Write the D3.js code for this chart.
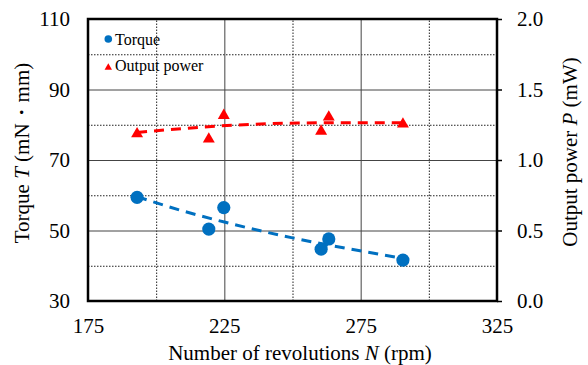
<!DOCTYPE html>
<html><head><meta charset="utf-8">
<script src="https://cdn.jsdelivr.net/npm/d3@7"></script>
<style>
body{margin:0;background:#fff;}
svg{display:block;}
svg text{font-family:"Liberation Serif","Times New Roman",serif;}
</style></head>
<body><svg id="c" width="588" height="365"></svg>
<script>
// ---- data ----
const rpm = [193, 219.3, 224.8, 260.5, 263.3, 290.5];
const torque = [59.4, 50.4, 56.5, 44.7, 47.6, 41.6];
const power = [1.193, 1.155, 1.323, 1.211, 1.311, 1.262];
const torqueTrendN = [193, 210, 225, 250, 270, 290.5];
const torqueTrendT = [59.6, 55.5, 52.4, 47.9, 44.9, 42.1];
const powerTrendN = [193, 211, 223, 234, 252, 270, 290.5];
const powerTrendP = [1.195, 1.225, 1.241, 1.252, 1.262, 1.265, 1.265];
const xTicks = [175, 225, 275, 325];
const xMinor = [200, 250, 300];
const yTTicks = [30, 50, 70, 90, 110];
const yTMinor = [40, 60, 80, 100];
const yPTicks = [0, 0.5, 1.0, 1.5, 2.0];

const SERIF = '"Liberation Serif","Times New Roman",serif';
const L = 88, R = 497, T = 19, B = 301;
const svg = d3.select("#c");
const x = d3.scaleLinear().domain([175, 325]).range([L, R]);
const yT = d3.scaleLinear().domain([30, 110]).range([B, T]);
const yP = d3.scaleLinear().domain([0, 2]).range([B, T]);

// minor grid (dotted)
const g = svg.append("g");
g.append("g").attr("transform", `translate(0,${B})`)
  .call(d3.axisBottom(x).tickValues(xMinor).tickSize(-(B - T)).tickFormat(""))
  .call(s => { s.select(".domain").remove(); s.selectAll("line").attr("stroke", "#222").attr("stroke-dasharray", "1.5,1.5"); });
g.append("g").attr("transform", `translate(${L},0)`)
  .call(d3.axisLeft(yT).tickValues(yTMinor).tickSize(-(R - L)).tickFormat(""))
  .call(s => { s.select(".domain").remove(); s.selectAll("line").attr("stroke", "#222").attr("stroke-dasharray", "1.5,1.5"); });
// major grid (solid)
g.append("g").attr("transform", `translate(0,${B})`)
  .call(d3.axisBottom(x).tickValues([225, 275]).tickSize(-(B - T)).tickFormat(""))
  .call(s => { s.select(".domain").remove(); s.selectAll("line").attr("stroke", "#444"); });
g.append("g").attr("transform", `translate(${L},0)`)
  .call(d3.axisLeft(yT).tickValues([50, 70, 90]).tickSize(-(R - L)).tickFormat(""))
  .call(s => { s.select(".domain").remove(); s.selectAll("line").attr("stroke", "#444"); });

// axes labels
const fs = 21;
function styleAxis(s) {
  s.attr("font-family", SERIF).attr("font-size", fs);
  s.select(".domain").remove();
  s.selectAll("text").attr("font-size", fs).attr("font-family", SERIF).attr("fill", "#000");
}
svg.append("g").attr("transform", `translate(0,${B})`)
  .call(d3.axisBottom(x).tickValues(xTicks).tickSize(0).tickPadding(17).tickFormat(d3.format("d")))
  .call(styleAxis);
svg.append("g").attr("transform", `translate(${L},0)`)
  .call(d3.axisLeft(yT).tickValues(yTTicks).tickSize(0).tickPadding(18).tickFormat(d3.format("d")))
  .call(styleAxis);
svg.append("g").attr("transform", `translate(${R},0)`)
  .call(d3.axisRight(yP).tickValues(yPTicks).tickSize(5).tickPadding(15).tickFormat(d3.format(".1f")))
  .call(styleAxis)
  .call(s => s.selectAll("line").attr("stroke", "#000").attr("stroke-width", 1.5));

// trend lines
const tData = torqueTrendN.map((n, i) => [n, torqueTrendT[i]]);
const pData = powerTrendN.map((n, i) => [n, powerTrendP[i]]);
svg.append("path").attr("d", d3.line().x(d => x(d[0])).y(d => yT(d[1])).curve(d3.curveMonotoneX)(tData))
  .attr("fill", "none").attr("stroke", "#0070C0").attr("stroke-width", 3).attr("stroke-dasharray", "10,7");
svg.append("path").attr("d", d3.line().x(d => x(d[0])).y(d => yP(d[1])).curve(d3.curveMonotoneX)(pData))
  .attr("fill", "none").attr("stroke", "#FF0000").attr("stroke-width", 3).attr("stroke-dasharray", "10,7");

// markers
const tri = d3.symbol().type(d3.symbolTriangle).size(62);
svg.append("g").selectAll("path").data(rpm).join("path")
  .attr("d", tri).attr("transform", (d, i) => `translate(${x(d)},${yP(power[i]) + 1})`).attr("fill", "#FF0000");
svg.append("g").selectAll("circle").data(rpm).join("circle")
  .attr("cx", d => x(d)).attr("cy", (d, i) => yT(torque[i])).attr("r", 6.6).attr("fill", "#0070C0");

// frame
svg.append("rect").attr("x", L).attr("y", T).attr("width", R - L).attr("height", B - T)
  .attr("fill", "none").attr("stroke", "#000").attr("stroke-width", 2.5);

// legend
const lg = svg.append("g").attr("font-size", 16).attr("font-family", SERIF);
lg.append("circle").attr("cx", 108.3).attr("cy", 39).attr("r", 3.8).attr("fill", "#0070C0");
lg.append("text").attr("x", 115).attr("y", 44.5).attr("font-family", SERIF).text("Torque");
lg.append("path").attr("d", d3.symbol().type(d3.symbolTriangle).size(24)).attr("transform", "translate(108.3,67.5)").attr("fill", "#FF0000");
lg.append("text").attr("x", 115).attr("y", 71).attr("font-family", SERIF).text("Output power");

// axis titles
const xt = svg.append("text").attr("x", 300).attr("y", 360).attr("text-anchor", "middle").attr("font-size", fs).attr("font-family", SERIF);
xt.append("tspan").text("Number of revolutions ");
xt.append("tspan").attr("font-style", "italic").text("N");
xt.append("tspan").text(" (rpm)");

const lt = svg.append("text").attr("transform", "translate(29,153) rotate(-90)").attr("text-anchor", "middle").attr("font-size", fs).attr("font-family", SERIF);
lt.append("tspan").text("Torque ");
lt.append("tspan").attr("font-style", "italic").text("T");
lt.append("tspan").text(" (mN・mm)");

const rt = svg.append("text").attr("transform", "translate(577,152) rotate(-90)").attr("text-anchor", "middle").attr("font-size", fs).attr("font-family", SERIF);
rt.append("tspan").text("Output power ");
rt.append("tspan").attr("font-style", "italic").text("P");
rt.append("tspan").text(" (mW)");
</script></body></html>
